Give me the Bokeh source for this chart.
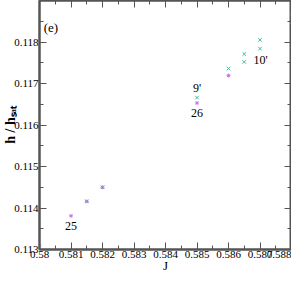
from bokeh.plotting import figure
from bokeh.models import (Range1d, SingleIntervalTicker, NumeralTickFormatter,
                          CustomJSTickFormatter, LinearAxis, Label, ColumnDataSource)
from bokeh.embed import file_html
from bokeh.resources import INLINE

# data
J_cross = [0.5815, 0.582, 0.585, 0.586, 0.5865, 0.5865, 0.587, 0.587, 0.588, 0.588]
h_cross = [0.11416, 0.11450, 0.11666, 0.11736, 0.11752, 0.11771, 0.11784, 0.11805, 0.11847, 0.11867]
J_plus = [0.580, 0.581, 0.5815, 0.582, 0.585, 0.586]
h_plus = [0.11309, 0.11381, 0.11416, 0.11450, 0.11653, 0.11719]
ann_text = ["25", "26", "9'", "10'", "(e)"]
ann_x = [0.581, 0.585, 0.585, 0.58702, 0.58036]
ann_y = [0.11356, 0.11628, 0.11688, 0.11756, 0.11835]
ann_size = ["12px", "12px", "12px", "12px", "13px"]

FONT = "'Liberation Serif', 'Times New Roman', serif"
AX = "#555555"

p = figure(width=291, height=275, output_backend="svg", toolbar_location=None,
           x_range=Range1d(0.58, 0.588), y_range=Range1d(0.113, 0.119),
           min_border_top=0, min_border_right=0, min_border_left=0, min_border_bottom=0)
p.grid.visible = False
p.outline_line_color = AX
p.outline_line_width = 2
p.background_fill_color = "white"
p.border_fill_color = "white"

p.xaxis.ticker = SingleIntervalTicker(interval=0.001, num_minor_ticks=2)
p.yaxis.ticker = SingleIntervalTicker(interval=0.001, num_minor_ticks=2)
p.xaxis.formatter = NumeralTickFormatter(format="0.[000]")
p.yaxis.formatter = NumeralTickFormatter(format="0.[000]")

for ax in (p.xaxis[0], p.yaxis[0]):
    ax.major_tick_in = 7
    ax.major_tick_out = 0
    ax.minor_tick_in = 4
    ax.minor_tick_out = 0
    ax.axis_line_color = AX
    ax.axis_line_width = 2
    ax.major_tick_line_color = AX
    ax.minor_tick_line_color = AX
    ax.major_label_text_font = FONT
    ax.major_label_text_font_size = "11px"
    ax.major_label_text_color = "black"
    ax.axis_label_text_font = FONT
    ax.axis_label_text_font_style = "normal"
    ax.axis_label_text_color = "black"
    ax.major_label_standoff = 1

p.xaxis.axis_label = "J"
p.xaxis.axis_label_text_font_size = "13px"
p.xaxis.axis_label_standoff = -3
p.yaxis.axis_label = "h / hₛₐₜ"
p.yaxis.axis_label_text_font_size = "14px"
p.yaxis.axis_label_text_font_style = "bold"
p.yaxis.axis_label_standoff = -7

# mirrored axes without labels
for loc in ("above", "right"):
    ax = LinearAxis(ticker=SingleIntervalTicker(interval=0.001, num_minor_ticks=2),
                    formatter=CustomJSTickFormatter(code="return ''"),
                    major_tick_in=7, major_tick_out=0,
                    minor_tick_in=4, minor_tick_out=0, axis_line_color=AX, axis_line_width=2,
                    major_tick_line_color=AX, minor_tick_line_color=AX,
                    major_label_standoff=-6, major_label_text_font_size="1px")
    p.add_layout(ax, loc)

src_c = ColumnDataSource(dict(x=J_cross, y=h_cross))
src_p = ColumnDataSource(dict(x=J_plus, y=h_plus))
p.scatter("x", "y", source=src_p, marker="asterisk", size=4, line_color="#cc77ee", line_width=1)
p.scatter("x", "y", source=src_c, marker="x", size=5, line_color="#3cbf9c", line_width=1)

for t, x, y, s in zip(ann_text, ann_x, ann_y, ann_size):
    p.add_layout(Label(x=x, y=y, text=t, text_font=FONT, text_font_size=s,
                       text_align="center", text_baseline="middle", text_color="black"))

open("out.html", "w").write(file_html(p, INLINE))
